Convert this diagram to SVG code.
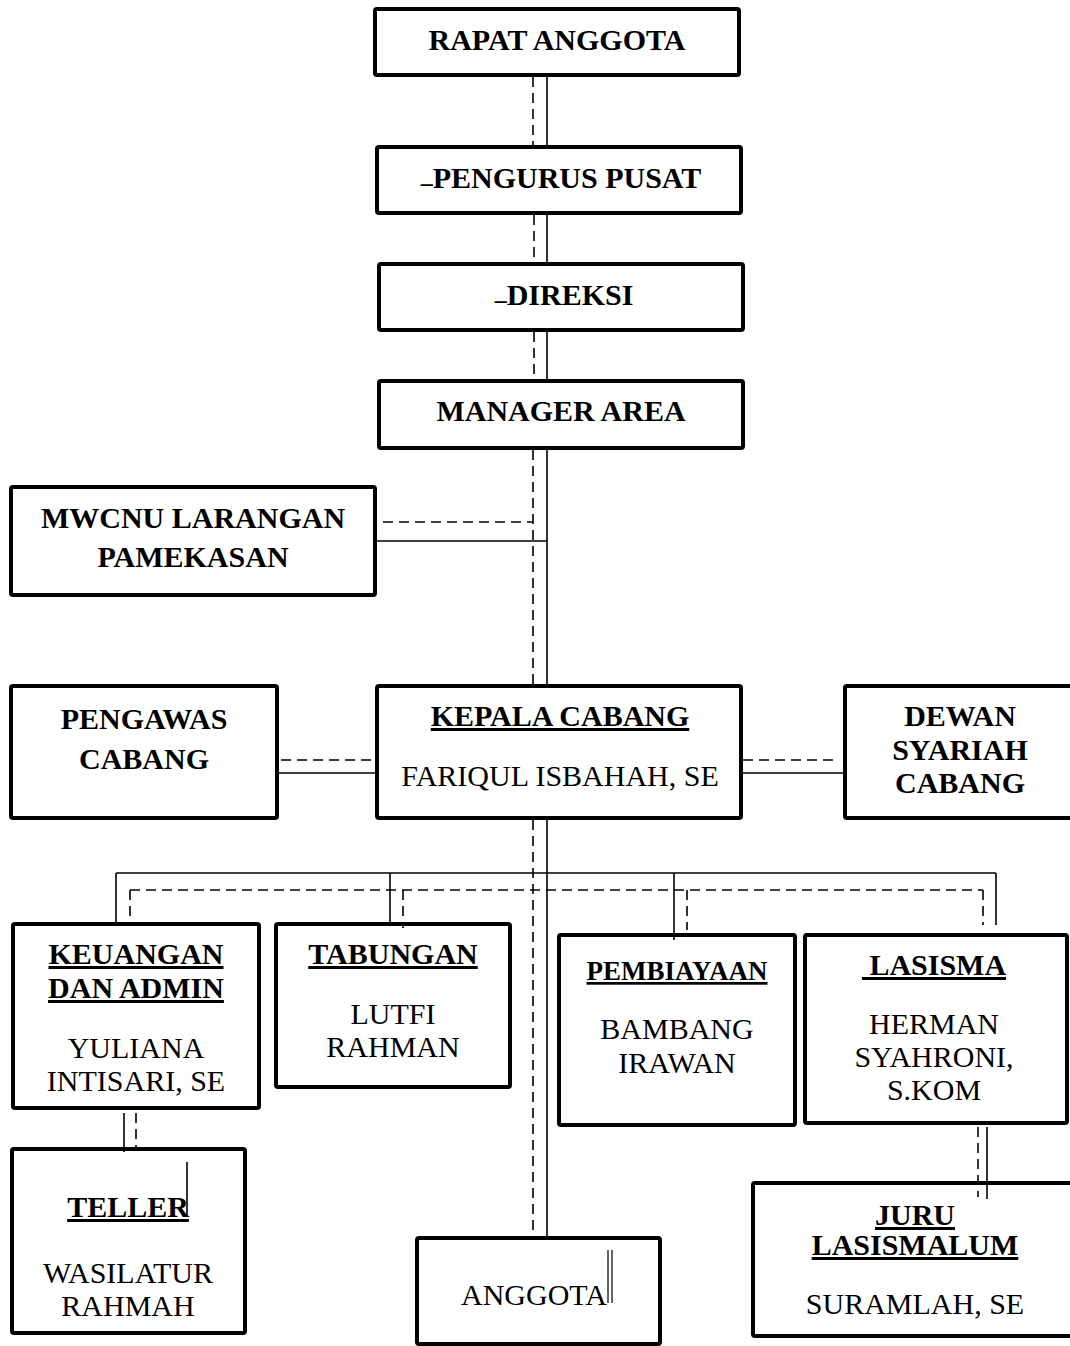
<svg xmlns="http://www.w3.org/2000/svg" width="1070" height="1346" viewBox="0 0 1070 1346">
<style>
.box{fill:#fff;stroke:#000;stroke-width:4}
.s{stroke:#000;stroke-width:1.6;fill:none}
.d{stroke:#000;stroke-width:1.6;stroke-dasharray:10 6;fill:none}
.t{font-family:"Liberation Serif","Times New Roman",serif;font-size:30px;text-anchor:middle;fill:#000}
.b{font-weight:bold}
.u{text-decoration:underline}
</style>
<rect width="1070" height="1346" fill="#fff"/>
<g id="nodes">
<g id="rapat"><rect class="box" x="375" y="9" width="364" height="66" rx="2"/><text class="t b" x="557" y="50">RAPAT ANGGOTA</text></g>
<g id="pengurus"><rect class="box" x="377" y="147" width="364" height="66" rx="2"/><text class="t b" x="561" y="188"><tspan dy="-5" style="font-size:24px">_</tspan><tspan dy="5">PENGURUS PUSAT</tspan></text></g>
<g id="direksi"><rect class="box" x="379" y="264" width="364" height="66" rx="2"/><text class="t b" x="564" y="305"><tspan dy="-5" style="font-size:24px">_</tspan><tspan dy="5">DIREKSI</tspan></text></g>
<g id="manager"><rect class="box" x="379" y="381" width="364" height="67" rx="2"/><text class="t b" x="561" y="421">MANAGER AREA</text></g>
<g id="mwcnu"><rect class="box" x="11" y="487" width="364" height="108" rx="2"/><text class="t b" x="193" y="528">MWCNU LARANGAN</text><text class="t b" x="193" y="567">PAMEKASAN</text></g>
<g id="pengawas"><rect class="box" x="11" y="686" width="266" height="132" rx="2"/><text class="t b" x="144" y="729">PENGAWAS</text><text class="t b" x="144" y="769">CABANG</text></g>
<g id="kepala"><rect class="box" x="377" y="686" width="364" height="132" rx="2"/><text class="t b u" x="560" y="726">KEPALA CABANG</text><text class="t" x="560" y="786">FARIQUL ISBAHAH, SE</text></g>
<g id="dewan"><rect class="box" x="845" y="686" width="240" height="132" rx="2"/><text class="t b" x="960" y="726">DEWAN</text><text class="t b" x="960" y="760">SYARIAH</text><text class="t b" x="960" y="793">CABANG</text></g>
<g id="keuangan"><rect class="box" x="13" y="924" width="246" height="184" rx="2"/><text class="t b u" x="136" y="964">KEUANGAN</text><text class="t b u" x="136" y="998">DAN ADMIN</text><text class="t" x="136" y="1058">YULIANA</text><text class="t" x="136" y="1091">INTISARI, SE</text></g>
<g id="tabungan"><rect class="box" x="276" y="924" width="234" height="163" rx="2"/><text class="t b u" x="393" y="964">TABUNGAN</text><text class="t" x="393" y="1024">LUTFI</text><text class="t" x="393" y="1057">RAHMAN</text></g>
<g id="pembiayaan"><rect class="box" x="559" y="935" width="236" height="190" rx="2"/><text class="t b u" x="677" y="980" style="font-size:27px">PEMBIAYAAN</text><text class="t" x="677" y="1039">BAMBANG</text><text class="t" x="677" y="1073">IRAWAN</text></g>
<g id="lasisma"><rect class="box" x="805" y="935" width="262" height="188" rx="2"/><text class="t b u" x="934" y="975" xml:space="preserve"> LASISMA</text><text class="t" x="934" y="1034">HERMAN</text><text class="t" x="934" y="1067">SYAHRONI,</text><text class="t" x="934" y="1100">S.KOM</text></g>
<g id="teller"><rect class="box" x="12" y="1149" width="233" height="184" rx="2"/><text class="t b u" x="128" y="1217">TELLER</text><line class="s" x1="187" y1="1162" x2="187" y2="1216"/><text class="t" x="128" y="1283">WASILATUR</text><text class="t" x="128" y="1316">RAHMAH</text></g>
<g id="anggota"><rect class="box" x="417" y="1238" width="243" height="106" rx="2"/><text class="t" x="534" y="1305">ANGGOTA</text><line class="s" x1="608" y1="1250" x2="608" y2="1303" style="stroke-width:1.2"/><line class="s" x1="612" y1="1250" x2="612" y2="1303" style="stroke-width:1.2"/></g>
<g id="juru"><rect class="box" x="753" y="1183" width="330" height="153" rx="2"/><text class="t b u" x="915" y="1225">JURU</text><text class="t b u" x="915" y="1255">LASISMALUM</text><text class="t" x="915" y="1314">SURAMLAH, SE</text></g>
</g>
<g id="connectors">
<line class="d" x1="533" y1="77" x2="533" y2="147"/><line class="s" x1="547" y1="77" x2="547" y2="147"/>
<line class="d" x1="534" y1="215" x2="534" y2="262"/><line class="s" x1="547" y1="215" x2="547" y2="262"/>
<line class="d" x1="534" y1="332" x2="534" y2="379"/><line class="s" x1="547" y1="332" x2="547" y2="379"/>
<line class="d" x1="533" y1="450" x2="533" y2="684"/><line class="s" x1="547" y1="450" x2="547" y2="684"/>
<line class="d" x1="383" y1="522" x2="533" y2="522"/><line class="s" x1="377" y1="541" x2="547" y2="541"/>
<line class="d" x1="281" y1="760" x2="375" y2="760"/><line class="s" x1="279" y1="773" x2="375" y2="773"/>
<line class="d" x1="743" y1="760" x2="836" y2="760"/><line class="s" x1="743" y1="773" x2="843" y2="773"/>
<line class="d" x1="533" y1="820" x2="533" y2="1236"/><line class="s" x1="547" y1="820" x2="547" y2="1236"/>
<line class="s" x1="116" y1="873" x2="996" y2="873"/><line class="d" x1="130" y1="890" x2="983" y2="890"/>
<line class="s" x1="116" y1="873" x2="116" y2="922"/><line class="d" x1="130" y1="890" x2="130" y2="922"/>
<line class="s" x1="390" y1="873" x2="390" y2="922"/><line class="d" x1="403" y1="890" x2="403" y2="928"/>
<line class="s" x1="674" y1="873" x2="674" y2="940"/><line class="d" x1="687" y1="890" x2="687" y2="930"/>
<line class="d" x1="983" y1="890" x2="983" y2="925"/><line class="s" x1="996" y1="873" x2="996" y2="925"/>
<line class="s" x1="124" y1="1113" x2="124" y2="1152"/><line class="d" x1="136" y1="1113" x2="136" y2="1150"/>
<line class="d" x1="978" y1="1127" x2="978" y2="1197"/><line class="s" x1="987" y1="1127" x2="987" y2="1199"/>
</g>
</svg>
